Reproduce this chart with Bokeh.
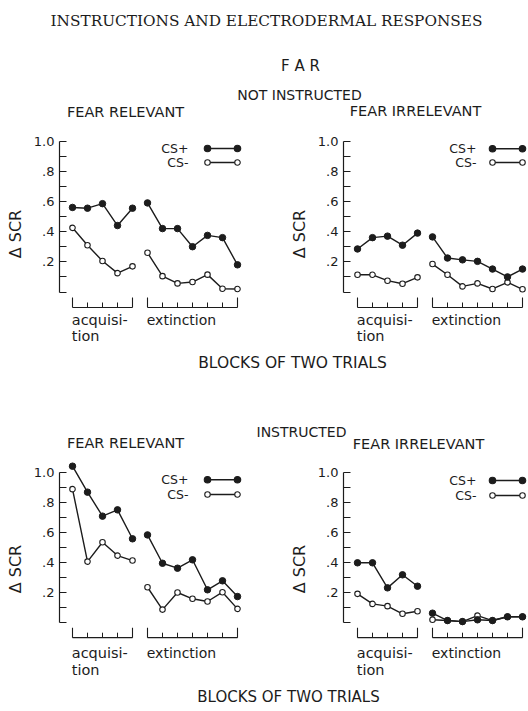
from bokeh.plotting import figure
from bokeh.layouts import column, row
from bokeh.models import Range1d, LinearAxis, FixedTicker
from bokeh.core.properties import value
from bokeh.embed import file_html
from bokeh.resources import INLINE

FONT = "DejaVu Sans"
SERIF = "DejaVu Serif"
INK = "#1c1c1c"

# ---------------- data ----------------
acq_x = [1, 2, 3, 4, 5]
ext_x = [6, 7, 8, 9, 10, 11, 12]

y_ticks = [0.2, 0.4, 0.6, 0.8, 1.0]
y_minor = [0.0, 0.1, 0.3, 0.5, 0.7, 0.9]
y_tick_labels = [".2", ".4", ".6", ".8", "1.0"]

# NOT INSTRUCTED - FEAR RELEVANT
ni_rel_csp_acq = [0.56, 0.555, 0.585, 0.44, 0.555]
ni_rel_csp_ext = [0.59, 0.42, 0.42, 0.30, 0.375, 0.36, 0.18]
ni_rel_csm_acq = [0.425, 0.31, 0.205, 0.125, 0.17]
ni_rel_csm_ext = [0.26, 0.105, 0.057, 0.066, 0.115, 0.022, 0.02]

# NOT INSTRUCTED - FEAR IRRELEVANT
ni_irr_csp_acq = [0.285, 0.36, 0.37, 0.31, 0.39]
ni_irr_csp_ext = [0.365, 0.225, 0.213, 0.203, 0.152, 0.10, 0.152]
ni_irr_csm_acq = [0.114, 0.114, 0.075, 0.055, 0.097]
ni_irr_csm_ext = [0.185, 0.114, 0.037, 0.057, 0.02, 0.064, 0.018]

# INSTRUCTED - FEAR RELEVANT
in_rel_csp_acq = [1.04, 0.867, 0.707, 0.749, 0.556]
in_rel_csp_ext = [0.582, 0.393, 0.36, 0.416, 0.216, 0.276, 0.171]
in_rel_csm_acq = [0.887, 0.404, 0.533, 0.444, 0.411]
in_rel_csm_ext = [0.233, 0.084, 0.198, 0.156, 0.138, 0.2, 0.089]

# INSTRUCTED - FEAR IRRELEVANT
in_irr_csp_acq = [0.396, 0.396, 0.229, 0.316, 0.24]
in_irr_csp_ext = [0.06, 0.011, 0.004, 0.016, 0.011, 0.036, 0.036]
in_irr_csm_acq = [0.189, 0.122, 0.107, 0.056, 0.073]
in_irr_csm_ext = [0.016, 0.011, 0.004, 0.044, 0.011, 0.036, 0.036]

legend_labels = ["CS+", "CS-"]
group_labels = ["acquisi-", "tion", "extinction"]

XPX = 15.0  # pixels per block


def txt(p, x, y, s, size, font=FONT, align="center", baseline="middle"):
    p.text(x=[x], y=[y], text=[s], text_font=value(font),
           text_font_size=value(size), text_align=align,
           text_baseline=baseline, text_color=INK)


def text_fig(w, top, h, items):
    # text strip; coordinates are page pixels
    p = figure(width=w, height=h, x_range=Range1d(0, w),
               y_range=Range1d(top + h, top),
               x_axis_location=None, y_axis_location=None, min_border=0,
               toolbar_location=None, output_backend="svg")
    p.outline_line_color = None
    p.grid.grid_line_color = None
    for (x, y, s, font, size) in items:
        txt(p, x, y, s, size, font=font)
    return p


def panel(w, h, frame_left, x1_off, y0_px, ppu,
          csp_acq, csp_ext, csm_acq, csm_ext, leg_dx, leg_dy, lab_dy):
    x_start = 1 - x1_off / XPX
    x_end = x_start + (w - frame_left) / XPX
    y_end = y0_px / ppu
    y_start = y_end - h / ppu
    p = figure(width=w, height=h, x_range=Range1d(x_start, x_end),
               y_range=Range1d(y_start, y_end), x_axis_location=None,
               y_axis_location=None, min_border_left=frame_left,
               min_border_right=0, min_border_top=0, min_border_bottom=0,
               toolbar_location=None, output_backend="svg")
    p.outline_line_color = None
    p.grid.grid_line_color = None

    ax = LinearAxis(bounds=(0, 1.0),
                    ticker=FixedTicker(ticks=y_ticks, minor_ticks=y_minor))
    ax.major_label_overrides = {t: l for t, l in zip(y_ticks, y_tick_labels)}
    ax.axis_line_color = INK
    ax.axis_line_width = 1.2
    ax.major_tick_in = 7
    ax.major_tick_out = 0
    ax.minor_tick_in = 7
    ax.minor_tick_out = 0
    ax.major_tick_line_color = INK
    ax.minor_tick_line_color = INK
    ax.major_tick_line_width = 1.1
    ax.minor_tick_line_width = 1.1
    ax.major_label_text_font = FONT
    ax.major_label_text_font_size = "13px"
    ax.major_label_text_color = INK
    ax.major_label_standoff = 5
    ax.axis_label = "\u0394 SCR"
    ax.axis_label_text_font = FONT
    ax.axis_label_text_font_size = "16px"
    ax.axis_label_text_font_style = "normal"
    ax.axis_label_text_color = INK
    ax.axis_label_standoff = 6
    p.add_layout(ax, "left")

    px = 1.0 / ppu
    base = -15.5 * px
    for g in (acq_x, ext_x):
        p.segment(x0=[g[0]], y0=[base], x1=[g[-1]], y1=[base],
                  line_color=INK, line_width=1.2)
        p.segment(x0=g[1:-1], y0=[base] * (len(g) - 2), x1=g[1:-1],
                  y1=[base + 5 * px] * (len(g) - 2), line_color=INK, line_width=1.0)
        p.segment(x0=[g[0], g[-1]], y0=[base, base], x1=[g[0], g[-1]],
                  y1=[base + 10 * px] * 2, line_color=INK, line_width=1.1)

    # group labels
    txt(p, acq_x[0] - 0.05, -lab_dy[0] * px, group_labels[0], "14.5px",
        align="left", baseline="top")
    txt(p, acq_x[0] - 0.05, -lab_dy[1] * px, group_labels[1], "14.5px",
        align="left", baseline="top")
    txt(p, ext_x[0] - 0.05, -lab_dy[0] * px, group_labels[2], "14px",
        align="left", baseline="top")

    # data
    for xs, ys in ((acq_x, csp_acq), (ext_x, csp_ext), (acq_x, csm_acq), (ext_x, csm_ext)):
        p.line(xs, ys, line_color=INK, line_width=1.4)
    p.scatter(acq_x + ext_x, csm_acq + csm_ext, size=5.5, marker="circle",
              fill_color="white", line_color=INK, line_width=1.1)
    p.scatter(acq_x + ext_x, csp_acq + csp_ext, size=6.5, marker="circle",
              fill_color=INK, line_color=INK)

    # legend
    lx = [ext_x[4], ext_x[6]]
    for i, (lab, fill, sz) in enumerate(zip(legend_labels, [INK, "white"], [6.5, 5.5])):
        ly = leg_dy[i] * px
        p.line(lx, [ly, ly], line_color=INK, line_width=1.4)
        p.scatter(lx, [ly, ly], size=sz, marker="circle", fill_color=fill,
                  line_color=INK, line_width=1.1)
        txt(p, 1 + leg_dx / XPX, ly, lab, "12.5px", align="right")
    return p


W = 264
# row 1 (page y 122 -> 345)
R1_TOP, H1 = 122, 223
tl = panel(W, H1, 59, 13, 291.5 - R1_TOP, 151.0,
           ni_rel_csp_acq, ni_rel_csp_ext, ni_rel_csm_acq, ni_rel_csm_ext,
           116, (143.5, 129.5), (20, 35.5))
tr = panel(W, H1, 79, 14, 291.5 - R1_TOP, 151.0,
           ni_irr_csp_acq, ni_irr_csp_ext, ni_irr_csm_acq, ni_irr_csm_ext,
           119, (143.2, 129.5), (20, 35.5))

# row 2 (page y 452 -> 685)
R2_TOP, H2 = 452, 233
bl = panel(W, H2, 59, 13, 621.7 - R2_TOP, 150.0,
           in_rel_csp_acq, in_rel_csp_ext, in_rel_csm_acq, in_rel_csm_ext,
           116, (142.4, 127.7), (22.5, 39.5))
br = panel(W, H2, 79, 14, 621.7 - R2_TOP, 150.0,
           in_irr_csp_acq, in_irr_csp_ext, in_irr_csm_acq, in_irr_csm_ext,
           119, (141.7, 126.7), (22.5, 39.5))

header = text_fig(528, 0, R1_TOP, [
    (266, 20, "INSTRUCTIONS AND ELECTRODERMAL RESPONSES", SERIF, "15.3px"),
    (300, 65, "F A R", FONT, "15px"),
    (299, 94, "NOT INSTRUCTED", FONT, "14px"),
    (125, 111, "FEAR RELEVANT", FONT, "14.5px"),
    (415, 110, "FEAR IRRELEVANT", FONT, "14.5px"),
])
middle = text_fig(528, 345, R2_TOP - 345, [
    (292, 362, "BLOCKS OF TWO TRIALS", FONT, "15.5px"),
    (301, 431, "INSTRUCTED", FONT, "14px"),
    (125, 442, "FEAR RELEVANT", FONT, "14.5px"),
    (418, 443, "FEAR IRRELEVANT", FONT, "14.5px"),
])
footer = text_fig(528, 685, 711 - 685, [
    (288, 696, "BLOCKS OF TWO TRIALS", FONT, "15px"),
])

layout = column(header, row(tl, tr), middle, row(bl, br), footer)

with open("out.html", "w") as f:
    f.write(file_html(layout, INLINE))
